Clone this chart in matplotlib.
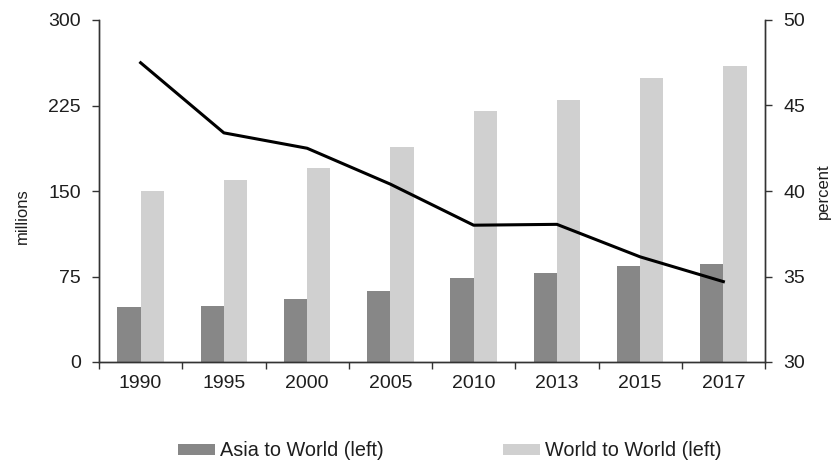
import matplotlib
matplotlib.use("Agg")
import matplotlib.pyplot as plt
import numpy as np
from matplotlib.patches import Patch

# Data
years = ["1990", "1995", "2000", "2005", "2010", "2013", "2015", "2017"]
asia_to_world = [48, 49, 55, 62, 74, 78, 84, 86]          # millions (left)
world_to_world = [150, 160, 170, 189, 220, 230, 249, 260]  # millions (left)
asia_share = [47.5, 43.4, 42.5, 40.4, 38.0, 38.05, 36.15, 34.7]  # percent (right)

plt.rcParams["font.family"] = ["Liberation Sans", "DejaVu Sans"]
text_col = "#1e1e1e"
dark = "#878787"
light = "#d0d0d0"

fig = plt.figure(figsize=(8.32, 4.62), dpi=100)
ax = fig.add_axes([99 / 832, 1 - 362 / 462, 666 / 832, 342 / 462])
ax2 = ax.twinx()

x = np.arange(len(years))
w = 0.28
ax.bar(x - w / 2, asia_to_world, width=w, color=dark, zorder=2)
ax.bar(x + w / 2, world_to_world, width=w, color=light, zorder=2)
ax2.plot(x, asia_share, color="black", lw=2.2, zorder=3, solid_joinstyle="round")

ax.set_xlim(-0.5, len(years) - 0.5)
ax.set_ylim(0, 300)
ax.set_yticks([0, 75, 150, 225, 300])
ax2.set_ylim(30, 50)
ax2.set_yticks([30, 35, 40, 45, 50])

ax.set_xticks(x)
ax.set_xticklabels(years)
ax.set_xticks(np.arange(-0.5, len(years)), minor=True)
ax.tick_params(axis="x", which="major", length=0, pad=9, labelsize=14, labelcolor=text_col)
ax.tick_params(axis="x", which="minor", length=5, width=1, color="#333333", direction="out")
ax.tick_params(axis="y", length=5, width=1, color="#333333", pad=8, labelsize=14, labelcolor=text_col)
ax2.tick_params(axis="y", length=5, width=1, color="#333333", pad=8, labelsize=14, labelcolor=text_col)

for a in (ax, ax2):
    a.spines["top"].set_visible(False)
    for s in ("left", "right", "bottom"):
        a.spines[s].set_color("#333333")
        a.spines[s].set_linewidth(1)

fig.text(22 / 832, 1 - 216 / 462, "millions", rotation=90, ha="center", va="center",
         fontsize=12, color=text_col)
fig.text(823 / 832, 1 - 191 / 462, "percent", rotation=90, ha="center", va="center",
         fontsize=12, color=text_col)

handles = [Patch(facecolor=dark, edgecolor="none"), Patch(facecolor=light, edgecolor="none")]
labels = ["Asia to World (left)", "World to World (left)"]
fig.legend(handles, labels, loc="center", bbox_to_anchor=(450 / 832, 1 - 451 / 462),
           ncol=2, frameon=False, fontsize=14.3, handlelength=1.85, handleheight=0.45,
           handletextpad=0.28, columnspacing=6.0, labelcolor=text_col)

fig.savefig("out.png", dpi=100)
